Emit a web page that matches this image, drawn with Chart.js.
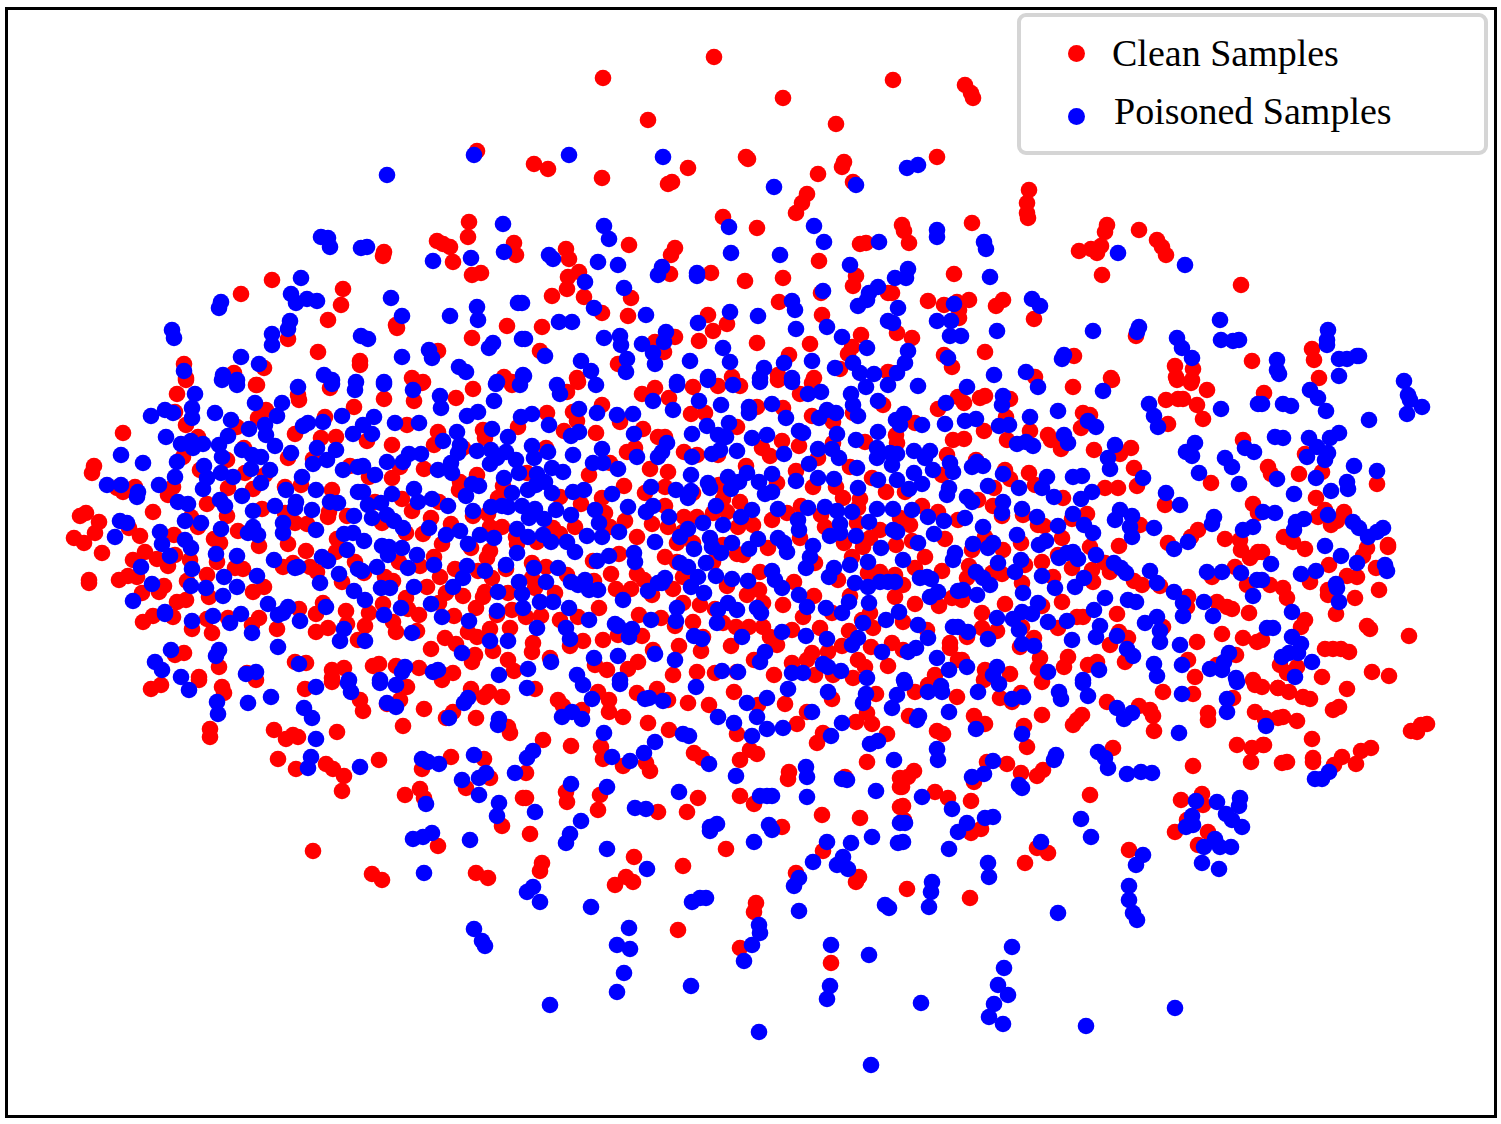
<!DOCTYPE html>
<html>
<head>
<meta charset="utf-8">
<title>Clean vs Poisoned Samples</title>
<script src="https://cdn.jsdelivr.net/npm/chart.js@4"></script>
<style>
    html, body { margin: 0; padding: 0; background: #fff; }
    #wrap { position: relative; width: 1501px; height: 1124px; overflow: hidden; }
    #myChart { position: absolute; left: 0; top: 0; }
    #legend {
        position: absolute; left: 1017px; top: 13px; width: 463px; height: 134px;
        border: 4px solid #d5d5d5; border-radius: 9px; background: #fff;
        font-family: "Liberation Serif", serif; font-size: 38px; color: #000;
    }
    #legend span { position: absolute; white-space: nowrap; line-height: 44px; }
    #legend i { position: absolute; width: 17px; height: 17px; border-radius: 50%; }
</style>
</head>
<body>
<div id="wrap">
    <canvas id="myChart" width="1501" height="1124"></canvas>
    <div id="legend">
        <i style="left:47px;top:28px;background:#ff0000"></i><span style="left:91px;top:14px">Clean Samples</span>
        <i style="left:47px;top:91px;background:#0000ff"></i><span style="left:93px;top:72px">Poisoned Samples</span>
    </div>
</div>
<script>
// values, in picture units
const clean_left = [[177,394],[186,380],[257,385],[298,395],[299,400],[330,388],[354,407],[266,410],[258,418],[175,412],[186,425],[237,427],[123,433],[295,434],[325,417],[321,438],[336,437],[198,437],[183,457],[227,460],[244,448],[288,458],[313,459],[350,466],[94,466],[92,473],[200,470],[245,473],[265,475],[173,487],[168,495],[228,488],[253,489],[301,485],[285,487],[332,490],[135,487],[123,492],[117,488],[207,504],[153,512],[80,516],[86,513],[262,509],[227,516],[191,517],[198,527],[99,522],[95,533],[129,528],[74,538],[84,543],[140,536],[174,535],[238,531],[285,513],[295,523],[307,524],[328,517],[329,512],[347,516],[214,539],[220,543],[288,544],[259,546],[337,539],[336,552],[102,553],[145,552],[133,560],[157,559],[175,555],[168,566],[190,560],[217,562],[306,551],[355,562],[283,567],[293,563],[310,567],[317,572],[235,568],[243,569],[207,575],[128,576],[137,577],[119,580],[89,580],[89,583],[164,586],[159,592],[187,581],[142,593],[209,597],[253,592],[264,587],[342,582],[177,602],[186,600],[153,616],[143,622],[173,617],[299,609],[316,614],[323,603],[346,611],[347,624],[228,618],[207,619],[192,629],[212,633],[259,618],[252,625],[277,629],[316,632],[328,628],[358,640],[184,653],[175,655],[295,662],[306,663],[219,667],[332,670],[344,668],[199,677],[247,673],[332,678]];
const clean_mid_left = [[384,399],[414,401],[422,383],[456,398],[473,389],[512,385],[567,392],[578,382],[602,405],[620,422],[547,413],[642,394],[655,388],[573,412],[577,421],[518,427],[564,431],[596,433],[643,429],[407,425],[483,430],[485,438],[438,432],[434,445],[392,445],[367,441],[463,448],[546,448],[627,452],[635,448],[658,437],[610,463],[400,467],[424,469],[392,478],[369,477],[477,475],[527,473],[589,475],[650,469],[460,482],[459,490],[503,486],[624,486],[645,493],[560,497],[402,499],[375,502],[439,502],[498,498],[602,498],[581,504],[412,511],[488,514],[605,513],[473,516],[431,518],[382,523],[625,521],[652,524],[575,527],[406,533],[423,534],[451,524],[490,527],[502,527],[553,528],[560,534],[610,527],[637,537],[516,537],[517,544],[537,542],[442,544],[471,548],[490,551],[487,558],[434,557],[399,562],[420,566],[619,554],[593,561],[364,573],[385,577],[393,581],[455,569],[440,577],[478,571],[492,578],[506,569],[532,563],[546,567],[532,578],[567,575],[611,574],[637,574],[644,580],[594,581],[427,587],[446,593],[463,596],[485,592],[483,597],[508,593],[535,588],[555,593],[616,589],[631,589],[652,595],[406,598],[383,604],[408,609],[476,608],[512,610],[439,603],[599,608],[369,613],[419,615],[454,616],[497,615],[526,617],[541,616],[560,620],[578,617],[639,615],[365,626],[393,622],[396,632],[417,631],[490,629],[510,628],[445,638],[456,644],[468,632],[477,637],[533,643],[532,652],[493,651],[570,646],[583,641],[603,640],[642,636],[618,635],[431,649],[653,650],[475,655],[472,662],[508,660],[379,664],[373,666],[396,666],[419,668],[453,673],[514,671],[550,658],[595,665],[607,670],[628,669],[638,662],[443,675]];
const clean_mid_right = [[693,387],[669,398],[718,386],[740,386],[800,394],[778,380],[812,383],[883,405],[757,407],[783,408],[938,409],[958,397],[691,414],[705,413],[812,416],[833,422],[853,413],[915,423],[737,427],[896,435],[897,443],[865,442],[953,440],[782,441],[799,446],[833,443],[665,437],[684,452],[697,455],[718,455],[762,448],[770,456],[818,458],[947,455],[746,466],[668,472],[850,467],[796,471],[942,475],[665,487],[872,478],[719,485],[777,483],[813,487],[836,487],[886,492],[905,492],[693,493],[843,498],[860,499],[723,499],[740,502],[665,506],[801,506],[858,508],[922,506],[938,512],[713,513],[727,512],[787,513],[821,515],[684,517],[697,517],[772,520],[753,525],[738,527],[668,527],[825,527],[857,523],[900,518],[910,525],[958,520],[683,532],[800,538],[880,530],[870,538],[863,547],[896,545],[912,541],[945,539],[693,543],[677,543],[768,548],[723,545],[844,543],[737,554],[743,555],[665,557],[677,562],[713,562],[925,557],[852,557],[815,563],[915,568],[942,571],[683,577],[760,572],[868,573],[880,572],[895,575],[838,580],[794,582],[673,589],[759,590],[727,586],[747,595],[903,585],[895,597],[814,596],[850,596],[952,598],[939,606],[683,603],[700,605],[763,603],[783,605],[915,604],[870,613],[803,617],[715,609],[832,613],[661,618],[693,622],[723,623],[862,620],[903,622],[675,626],[736,627],[749,627],[763,627],[792,630],[820,628],[873,628],[849,631],[927,630],[703,637],[770,637],[777,645],[679,646],[731,646],[701,651],[842,646],[871,647],[892,643],[903,650],[950,643],[950,648],[812,653],[828,652],[754,660],[858,660],[807,660],[792,663],[865,667],[888,666],[697,672],[673,675],[715,673],[737,672],[774,675],[815,675],[833,675],[853,678],[935,675],[958,660]];
const clean_right = [[1073,387],[1112,380],[1177,380],[1191,383],[1207,390],[964,403],[980,398],[985,396],[1010,399],[1166,400],[1178,399],[1183,399],[1197,405],[1203,419],[1168,424],[1083,413],[1090,415],[1081,428],[1006,417],[984,431],[1030,431],[964,439],[1007,440],[1048,435],[1051,440],[1061,449],[1094,450],[1131,448],[1120,454],[1243,440],[976,460],[1005,470],[1010,479],[1029,473],[1134,468],[1035,485],[1211,483],[1137,486],[1105,488],[1118,488],[994,488],[1063,498],[978,500],[1165,505],[993,506],[1002,516],[1023,515],[1087,514],[1253,504],[1258,513],[1072,519],[1038,525],[1044,526],[1140,525],[1198,530],[1191,537],[985,537],[1225,539],[1240,540],[1241,550],[1062,538],[1021,543],[1090,547],[1119,546],[1168,543],[972,550],[1003,550],[1250,558],[1258,552],[1058,555],[1042,562],[969,566],[1105,563],[1235,567],[1025,565],[1072,568],[1092,570],[1110,572],[1212,577],[967,578],[992,573],[1002,574],[1053,577],[1022,583],[1093,582],[1134,581],[1142,585],[1160,586],[1247,585],[1188,597],[1062,602],[1005,604],[962,600],[1187,607],[1217,602],[1227,607],[1232,609],[1249,613],[982,613],[1042,606],[1077,617],[1083,617],[1117,614],[1058,628],[1163,627],[1022,627],[982,628],[997,631],[967,637],[1119,632],[1222,634],[1197,642],[1243,638],[1257,642],[1128,638],[1034,638],[1110,645],[1020,647],[1040,658],[1068,657],[1064,667],[1097,662],[1088,665],[1125,662],[1188,660],[1236,655],[962,660],[985,670],[1038,668],[1010,674],[1195,677],[1217,665],[1253,680]];
const clean_far_right = [[1312,349],[1314,360],[1319,378],[1264,393],[1305,454],[1268,467],[1271,474],[1299,474],[1322,472],[1377,484],[1316,498],[1325,510],[1344,512],[1318,517],[1337,521],[1331,525],[1284,537],[1293,542],[1305,549],[1388,545],[1388,547],[1367,548],[1363,556],[1262,552],[1329,565],[1376,568],[1347,576],[1357,577],[1379,590],[1270,585],[1283,588],[1287,598],[1310,582],[1328,595],[1328,590],[1355,598],[1336,614],[1305,620],[1301,627],[1367,626],[1370,629],[1409,636],[1262,640],[1325,649],[1333,649],[1341,649],[1349,652],[1280,665],[1287,673],[1297,667],[1322,677],[1372,672],[1389,676],[1347,689],[1278,688],[1289,692],[1303,697],[1310,699],[1339,707],[1333,710],[1262,687],[1283,717],[1297,721],[1265,718],[1427,724],[1421,725],[1417,732],[1411,731],[1264,745],[1312,739],[1313,758],[1313,762],[1287,762],[1342,757],[1334,765],[1356,764],[1361,751],[1371,748]];
const clean_top = [[603,78],[714,57],[783,98],[648,120],[836,124],[893,80],[965,85],[971,93],[973,98],[937,157],[477,151],[469,222],[468,237],[437,241],[443,244],[450,247],[384,252],[383,256],[514,243],[516,255],[453,262],[472,275],[481,273],[272,280],[241,294],[343,289],[341,305],[328,320],[396,325],[397,328],[507,326],[472,338],[288,339],[318,352],[360,361],[360,365],[438,351],[184,364],[186,378],[234,373],[264,368],[256,385],[412,378],[423,382],[504,377],[512,382],[534,164],[548,169],[602,178],[688,168],[746,157],[748,159],[844,162],[842,167],[818,174],[672,182],[668,184],[853,182],[807,194],[802,203],[796,213],[723,217],[757,228],[860,244],[866,243],[629,245],[566,249],[569,259],[675,248],[671,255],[819,261],[670,274],[711,273],[579,272],[568,277],[567,289],[552,296],[584,297],[745,281],[783,278],[856,276],[853,286],[631,298],[821,293],[779,302],[602,313],[628,316],[888,293],[822,315],[708,315],[727,324],[542,327],[713,331],[675,337],[699,341],[655,342],[757,343],[861,335],[810,344],[852,347],[848,354],[664,352],[540,351],[789,355],[618,364],[840,369],[732,377],[577,378],[778,375],[814,378],[888,372],[1029,190],[1027,203],[1027,213],[1028,218],[972,223],[902,225],[904,231],[909,243],[1107,225],[1105,232],[1139,230],[1157,240],[1162,247],[1166,255],[1079,251],[1091,249],[1101,246],[1097,253],[1102,275],[1241,285],[954,274],[892,293],[928,301],[944,305],[957,302],[969,300],[959,310],[959,318],[996,306],[1003,300],[1034,319],[897,333],[912,338],[985,352],[944,355],[952,367],[1074,356],[1136,336],[1175,366],[1193,369],[1176,377],[1192,380],[1252,361],[1035,377],[1111,378],[892,373]];
const clean_bottom = [[151,689],[161,685],[199,680],[222,687],[224,693],[256,680],[305,689],[332,682],[360,700],[363,711],[407,687],[400,700],[387,704],[424,709],[442,680],[471,689],[484,697],[489,692],[502,697],[453,712],[446,718],[476,718],[403,726],[508,727],[510,733],[210,729],[210,737],[274,730],[286,739],[293,735],[298,737],[337,732],[278,759],[296,769],[326,764],[333,769],[344,776],[379,760],[451,757],[422,769],[484,759],[490,778],[466,788],[342,791],[405,795],[420,789],[424,798],[502,826],[523,798],[438,846],[313,851],[372,874],[382,880],[476,873],[488,878],[535,689],[558,700],[563,706],[582,710],[598,692],[609,700],[609,712],[623,717],[637,693],[657,689],[668,700],[688,703],[709,705],[734,692],[758,705],[785,704],[832,699],[876,694],[648,723],[807,712],[867,713],[856,722],[872,724],[797,724],[669,730],[737,734],[823,733],[817,743],[887,734],[543,740],[571,746],[601,747],[603,759],[694,753],[702,758],[750,750],[757,754],[740,760],[867,762],[623,766],[646,763],[650,771],[526,773],[789,772],[788,779],[845,777],[900,778],[900,787],[566,792],[567,802],[600,795],[598,810],[526,798],[698,798],[740,796],[754,804],[658,812],[687,812],[900,807],[822,815],[860,818],[782,827],[530,834],[726,849],[823,851],[634,857],[683,866],[542,863],[540,871],[796,873],[859,877],[856,882],[626,877],[633,882],[615,885],[756,903],[754,912],[915,692],[928,685],[957,697],[984,680],[1000,698],[1012,702],[1021,693],[1042,682],[1107,702],[1139,706],[1150,710],[1153,716],[1163,692],[1193,694],[1233,698],[1255,685],[1278,688],[909,716],[974,716],[1042,715],[1082,715],[1077,720],[1073,725],[1208,713],[1208,720],[1255,712],[1265,719],[1278,718],[985,724],[1024,726],[937,731],[943,734],[1154,731],[1027,747],[1113,748],[1237,745],[1252,748],[1263,745],[1251,762],[1193,766],[1282,763],[1007,764],[987,762],[1021,773],[1043,770],[1037,776],[914,771],[908,777],[902,780],[902,787],[974,782],[935,792],[948,798],[971,801],[903,806],[1090,795],[1181,800],[1202,794],[1203,805],[1187,820],[1175,832],[1208,832],[1198,845],[904,820],[981,829],[971,833],[1037,848],[1048,853],[1129,850],[1025,863],[907,889],[970,898],[678,930],[740,948],[831,963]];

const poisoned_left = [[195,394],[151,416],[165,410],[173,413],[192,408],[192,418],[215,413],[231,420],[237,385],[222,380],[255,403],[282,403],[277,416],[298,387],[332,384],[355,390],[342,416],[323,422],[308,423],[303,426],[353,434],[166,437],[228,436],[249,429],[265,425],[266,435],[181,444],[191,441],[193,448],[203,444],[219,445],[222,457],[242,450],[252,455],[261,457],[275,446],[291,453],[317,448],[336,450],[121,455],[143,463],[177,462],[204,466],[175,477],[207,478],[203,489],[221,473],[233,477],[251,469],[270,470],[261,483],[302,477],[313,464],[327,460],[343,470],[358,467],[107,485],[121,485],[138,492],[137,497],[159,485],[286,490],[316,490],[242,496],[358,492],[178,502],[188,504],[220,500],[225,506],[253,511],[275,506],[296,502],[295,508],[312,510],[330,502],[338,503],[354,516],[185,521],[201,523],[120,521],[127,523],[221,529],[253,527],[248,533],[258,535],[283,523],[283,533],[316,530],[344,534],[353,533],[115,537],[160,532],[162,544],[185,540],[191,548],[216,554],[237,556],[170,556],[347,550],[274,560],[298,567],[295,568],[322,557],[328,561],[141,567],[192,569],[358,569],[224,577],[257,576],[339,574],[152,584],[191,586],[206,588],[237,587],[320,583],[354,591],[223,596],[133,601],[268,604],[288,607],[278,615],[283,613],[326,607],[165,612],[165,614],[213,616],[241,614],[192,621],[230,623],[300,621],[252,633],[344,629],[340,641],[278,647],[171,650],[219,650],[216,656],[155,662],[162,670],[299,664],[181,677],[246,674],[256,672],[349,680]];
const poisoned_mid_left = [[384,384],[413,390],[440,396],[441,408],[496,384],[494,401],[520,385],[557,385],[560,394],[596,385],[653,401],[579,409],[597,413],[617,415],[633,414],[467,416],[478,412],[521,417],[532,414],[549,425],[374,417],[395,423],[419,423],[363,425],[372,434],[492,429],[457,432],[443,441],[508,437],[571,436],[579,432],[634,434],[460,445],[458,453],[532,446],[477,451],[491,450],[506,452],[548,452],[409,454],[421,454],[403,462],[387,462],[573,455],[602,449],[637,457],[658,457],[363,466],[375,475],[438,470],[451,463],[452,473],[490,464],[497,458],[516,460],[534,458],[519,473],[504,478],[552,468],[563,472],[593,463],[603,463],[618,469],[537,474],[545,482],[536,485],[528,490],[552,493],[512,493],[479,486],[472,484],[466,496],[414,489],[418,502],[392,494],[363,492],[368,505],[381,503],[432,499],[448,506],[573,492],[584,490],[612,494],[651,487],[628,507],[646,512],[653,506],[473,511],[491,507],[502,506],[508,507],[522,506],[535,509],[529,518],[544,519],[556,510],[571,515],[595,510],[372,518],[387,515],[394,521],[403,528],[429,528],[599,523],[460,531],[446,535],[480,535],[494,538],[517,529],[528,537],[543,535],[551,542],[567,542],[587,536],[602,537],[619,532],[655,542],[364,541],[382,546],[389,547],[388,555],[402,548],[417,555],[468,544],[517,553],[575,552],[634,553],[635,562],[609,556],[597,561],[377,567],[408,568],[434,565],[467,566],[485,571],[506,565],[534,568],[558,568],[362,571],[463,578],[453,587],[546,582],[519,582],[571,582],[578,585],[585,580],[589,590],[598,590],[381,588],[390,588],[414,587],[498,592],[522,594],[648,591],[658,583],[365,600],[431,604],[540,602],[553,602],[623,600],[401,608],[497,611],[523,608],[569,608],[384,615],[442,617],[589,620],[651,620],[469,621],[537,628],[566,628],[615,624],[618,626],[632,629],[629,637],[412,633],[570,639],[490,641],[508,641],[365,641],[462,653],[551,662],[655,654],[618,656],[594,658],[405,667],[402,672],[438,670],[433,672],[528,669],[499,675],[577,675],[380,680],[620,680]];
const poisoned_mid_right = [[677,385],[708,380],[733,385],[760,382],[792,382],[699,401],[673,410],[721,405],[749,407],[749,413],[772,404],[786,418],[808,394],[821,392],[851,394],[853,405],[866,387],[888,385],[918,386],[878,401],[858,416],[836,413],[827,410],[819,418],[946,403],[904,414],[896,420],[900,425],[922,425],[945,424],[707,426],[729,423],[692,434],[718,435],[726,437],[752,438],[767,435],[799,431],[803,433],[837,434],[878,432],[856,440],[667,443],[662,452],[737,451],[720,450],[712,454],[692,457],[784,454],[818,449],[832,449],[839,458],[877,448],[877,458],[890,453],[897,454],[892,465],[914,451],[930,451],[925,458],[950,463],[809,464],[857,468],[933,470],[914,473],[953,472],[691,475],[728,477],[747,473],[739,482],[731,489],[759,482],[772,474],[818,478],[834,479],[796,481],[878,480],[897,480],[922,484],[909,489],[949,488],[947,495],[708,483],[710,488],[676,490],[691,491],[688,498],[765,494],[772,492],[858,488],[716,506],[752,510],[741,517],[778,509],[808,508],[825,507],[837,511],[852,512],[877,509],[893,509],[912,510],[669,517],[703,523],[723,525],[798,520],[799,530],[840,524],[869,522],[928,517],[944,521],[688,529],[680,537],[893,530],[897,532],[830,536],[840,533],[856,536],[934,534],[710,538],[712,547],[732,543],[758,539],[778,538],[784,543],[918,543],[694,549],[721,553],[749,549],[787,552],[813,546],[881,548],[955,553],[953,560],[810,557],[806,568],[868,562],[903,560],[680,563],[688,567],[706,563],[850,565],[834,568],[829,577],[698,577],[716,576],[772,571],[775,580],[732,579],[748,581],[665,578],[662,583],[691,587],[704,593],[782,588],[855,583],[868,587],[880,582],[888,582],[895,582],[920,578],[927,577],[931,579],[938,592],[930,597],[958,591],[799,595],[849,602],[869,603],[807,607],[826,608],[842,613],[899,612],[728,603],[718,610],[737,610],[757,608],[761,613],[677,608],[676,621],[717,623],[886,620],[863,623],[918,625],[953,627],[958,627],[782,632],[694,636],[702,639],[742,637],[806,636],[827,639],[858,638],[852,645],[928,638],[882,652],[908,652],[916,648],[765,652],[760,662],[675,660],[937,658],[823,664],[828,667],[722,671],[738,672],[792,673],[803,673],[841,671],[867,678],[949,670],[904,680]];
const poisoned_right = [[967,387],[1038,387],[1103,391],[1003,396],[1002,405],[1149,404],[1154,416],[1158,427],[1221,409],[1258,404],[1058,411],[1030,417],[965,421],[976,419],[999,426],[1009,425],[1088,421],[1096,427],[1064,435],[1068,443],[1017,444],[1026,442],[1033,446],[1115,445],[1108,458],[1195,443],[1186,452],[1192,456],[1245,448],[1254,452],[1225,458],[1232,467],[977,462],[972,467],[983,466],[1110,469],[1199,473],[1003,474],[1047,477],[1073,477],[1082,476],[1143,478],[1042,488],[1239,484],[988,486],[1019,488],[1054,497],[1092,492],[1081,499],[1166,493],[967,497],[972,502],[1003,502],[1002,513],[1180,505],[1022,509],[1037,517],[1073,514],[1120,510],[1115,520],[1132,516],[1130,527],[1132,537],[965,518],[983,527],[1058,526],[1084,525],[1093,533],[1154,528],[1214,517],[1212,524],[1253,527],[1243,530],[1017,535],[1188,542],[1174,549],[973,544],[988,548],[993,543],[1039,545],[1046,541],[1096,555],[1059,558],[1067,553],[1073,552],[1078,559],[1021,560],[998,563],[1114,563],[1121,568],[1126,573],[1015,572],[976,572],[1042,576],[1150,571],[1207,572],[1222,572],[1241,573],[1084,578],[1075,587],[1157,583],[983,578],[990,585],[1055,588],[963,590],[1023,593],[977,595],[1174,592],[1257,580],[1253,596],[1105,598],[1128,600],[1136,602],[1038,603],[1183,603],[1204,602],[1094,610],[1022,612],[1032,614],[1183,616],[1213,616],[1157,617],[1145,623],[997,618],[1013,619],[1048,622],[1067,621],[1100,626],[1019,630],[968,632],[1160,631],[988,639],[1072,640],[1096,637],[1117,636],[1160,642],[1180,645],[1022,644],[1034,646],[1127,649],[1133,656],[1229,653],[1224,662],[1222,670],[1210,669],[1182,665],[1154,664],[967,667],[997,667],[993,675],[1048,672],[1099,670],[1157,676],[1236,678],[1083,680]];
const poisoned_far_right = [[1328,330],[1327,340],[1327,345],[1277,360],[1277,370],[1279,374],[1339,359],[1347,359],[1357,356],[1359,356],[1339,376],[1404,381],[1408,395],[1410,400],[1422,407],[1407,414],[1310,390],[1318,398],[1326,411],[1369,420],[1262,404],[1283,404],[1291,406],[1339,433],[1330,438],[1275,437],[1283,438],[1309,438],[1317,447],[1328,453],[1325,460],[1307,457],[1354,466],[1377,471],[1316,478],[1277,479],[1347,482],[1348,489],[1331,491],[1294,494],[1328,515],[1263,512],[1275,513],[1304,519],[1296,522],[1294,530],[1353,522],[1359,528],[1368,537],[1377,532],[1383,528],[1325,546],[1341,556],[1357,563],[1271,564],[1301,574],[1316,571],[1385,565],[1387,571],[1336,584],[1337,588],[1339,602],[1262,580],[1292,612],[1267,628],[1273,628],[1292,637],[1301,644],[1298,653],[1289,653],[1282,657],[1312,662],[1295,677],[1266,726],[1329,772],[1322,779],[1315,779]];
const poisoned_top = [[474,155],[387,175],[503,224],[321,237],[328,238],[330,247],[361,248],[367,247],[433,261],[471,258],[504,252],[301,278],[291,294],[296,303],[307,299],[317,301],[221,302],[219,308],[391,298],[477,307],[478,320],[450,316],[518,303],[402,316],[290,321],[288,329],[172,330],[174,338],[272,334],[272,345],[361,336],[368,339],[493,343],[489,348],[429,350],[432,358],[522,339],[402,357],[241,357],[259,364],[459,367],[466,372],[184,371],[223,375],[237,380],[324,375],[332,380],[356,382],[384,382],[497,382],[523,375],[569,155],[663,157],[774,187],[856,185],[604,226],[609,239],[729,227],[814,226],[824,242],[879,242],[549,255],[553,259],[598,262],[618,265],[731,253],[780,255],[850,265],[662,267],[658,275],[697,273],[697,276],[585,282],[624,288],[823,291],[878,287],[869,293],[867,300],[858,306],[522,303],[594,308],[792,301],[795,310],[730,312],[758,316],[646,315],[888,321],[698,323],[559,322],[572,322],[796,329],[827,327],[604,338],[620,336],[621,345],[666,332],[664,342],[525,339],[642,344],[842,337],[723,348],[867,348],[545,356],[653,353],[655,364],[690,361],[627,359],[581,361],[591,371],[626,372],[730,362],[812,361],[784,363],[853,363],[835,368],[764,368],[860,373],[874,374],[524,376],[708,377],[760,378],[792,378],[677,382],[907,168],[918,165],[937,230],[937,237],[984,242],[986,249],[908,269],[895,278],[906,278],[990,277],[1118,253],[1185,265],[1032,299],[1040,306],[954,304],[898,308],[937,321],[951,321],[893,323],[950,336],[961,336],[997,331],[1093,331],[1139,327],[1137,332],[1220,320],[1221,340],[1233,341],[1239,340],[1177,338],[1182,348],[1192,358],[908,351],[905,363],[897,373],[948,358],[1064,355],[1062,359],[994,375],[1026,372]];
const poisoned_bottom = [[189,690],[217,702],[218,714],[248,703],[271,697],[316,687],[348,683],[351,692],[380,683],[396,685],[304,708],[312,718],[387,703],[396,707],[464,703],[468,698],[449,718],[499,719],[498,725],[316,739],[311,757],[308,768],[360,767],[422,759],[428,762],[439,764],[474,755],[486,773],[479,778],[462,780],[515,773],[479,795],[426,804],[499,803],[497,816],[413,839],[423,837],[432,833],[470,840],[424,873],[527,688],[583,685],[620,684],[696,687],[592,699],[645,699],[649,698],[663,701],[747,703],[767,698],[788,689],[828,692],[866,694],[863,703],[892,708],[897,695],[562,717],[572,712],[582,719],[718,717],[734,723],[757,717],[812,712],[842,723],[767,729],[783,728],[604,733],[655,742],[683,734],[689,736],[752,736],[831,736],[870,744],[878,741],[533,751],[527,758],[612,757],[630,761],[644,753],[709,764],[894,760],[736,776],[806,767],[807,777],[842,779],[847,780],[571,784],[607,787],[679,792],[876,791],[760,796],[767,796],[772,796],[807,797],[635,808],[646,809],[535,812],[581,821],[717,824],[710,827],[710,831],[769,825],[772,830],[900,823],[570,834],[566,843],[754,842],[827,842],[851,843],[872,837],[898,843],[607,849],[843,857],[813,862],[837,865],[848,869],[647,869],[799,878],[794,886],[533,887],[527,892],[540,902],[591,907],[692,902],[700,898],[706,898],[799,911],[885,905],[889,908],[759,925],[905,683],[928,692],[941,686],[942,692],[978,692],[999,684],[1012,699],[1023,697],[1059,692],[1061,699],[1083,683],[1088,696],[1117,708],[1132,713],[1124,719],[1182,694],[1227,699],[1227,712],[1237,682],[949,712],[919,716],[917,720],[976,729],[1022,734],[1179,733],[1098,752],[1105,758],[1108,768],[1056,755],[1054,760],[937,749],[938,760],[993,761],[984,774],[972,777],[1127,774],[1141,772],[1152,773],[1019,785],[1022,788],[922,797],[952,809],[1196,801],[1217,802],[1240,798],[1239,806],[1226,814],[1232,820],[1242,827],[1192,816],[1193,825],[1186,827],[967,823],[958,832],[985,818],[993,817],[1081,819],[1091,837],[905,823],[903,842],[949,849],[1041,842],[1215,839],[1204,847],[1220,847],[1231,847],[1202,863],[1219,869],[1143,855],[1136,865],[988,863],[989,877],[932,882],[931,892],[929,907],[1129,886],[1129,900],[1133,913],[1058,913],[1137,920],[474,929],[482,941],[485,946],[617,945],[629,928],[630,949],[624,973],[617,992],[691,986],[759,1032],[550,1005],[752,945],[744,961],[760,933],[831,945],[869,955],[830,986],[827,999],[921,1003],[1012,947],[1004,968],[998,985],[1008,995],[994,1004],[989,1017],[1003,1024],[1086,1026],[1175,1008],[871,1065]];

const cleanSamples = [...clean_left, ...clean_mid_left, ...clean_mid_right, ...clean_right, ...clean_far_right, ...clean_top, ...clean_bottom];
const poisonedSamples = [...poisoned_left, ...poisoned_mid_left, ...poisoned_mid_right, ...poisoned_right, ...poisoned_far_right, ...poisoned_top, ...poisoned_bottom];

const toPoints = list => list.map(p => ({x: p[0], y: p[1]}));

// black box round the plot, ticks are hidden in the original
const framePlugin = {
    id: 'frame',
    afterDraw(chart) {
        const ctx = chart.ctx;
        ctx.save();
        ctx.strokeStyle = '#000';
        ctx.lineWidth = 3;
        ctx.strokeRect(6.5, 8.5, 1489, 1108);
        ctx.restore();
    }
};

new Chart(document.getElementById('myChart'), {
    type: 'scatter',
    data: {
        datasets: [
            // chart.js paints the first dataset last, blue has to be on top
            {label: 'Poisoned Samples', data: toPoints(poisonedSamples), backgroundColor: '#0000ff', pointRadius: 8.3, borderWidth: 0},
            {label: 'Clean Samples', data: toPoints(cleanSamples), backgroundColor: '#ff0000', pointRadius: 8.3, borderWidth: 0}
        ]
    },
    options: {
        responsive: false,
        animation: false,
        devicePixelRatio: 1,
        layout: {padding: 0, autoPadding: false},
        scales: {
            x: {type: 'linear', display: false, min: 0, max: 1501},
            y: {type: 'linear', display: false, min: 0, max: 1124, reverse: true}
        },
        plugins: {legend: {display: false}, tooltip: {enabled: false}}
    },
    plugins: [framePlugin]
});
</script>
</body>
</html>
